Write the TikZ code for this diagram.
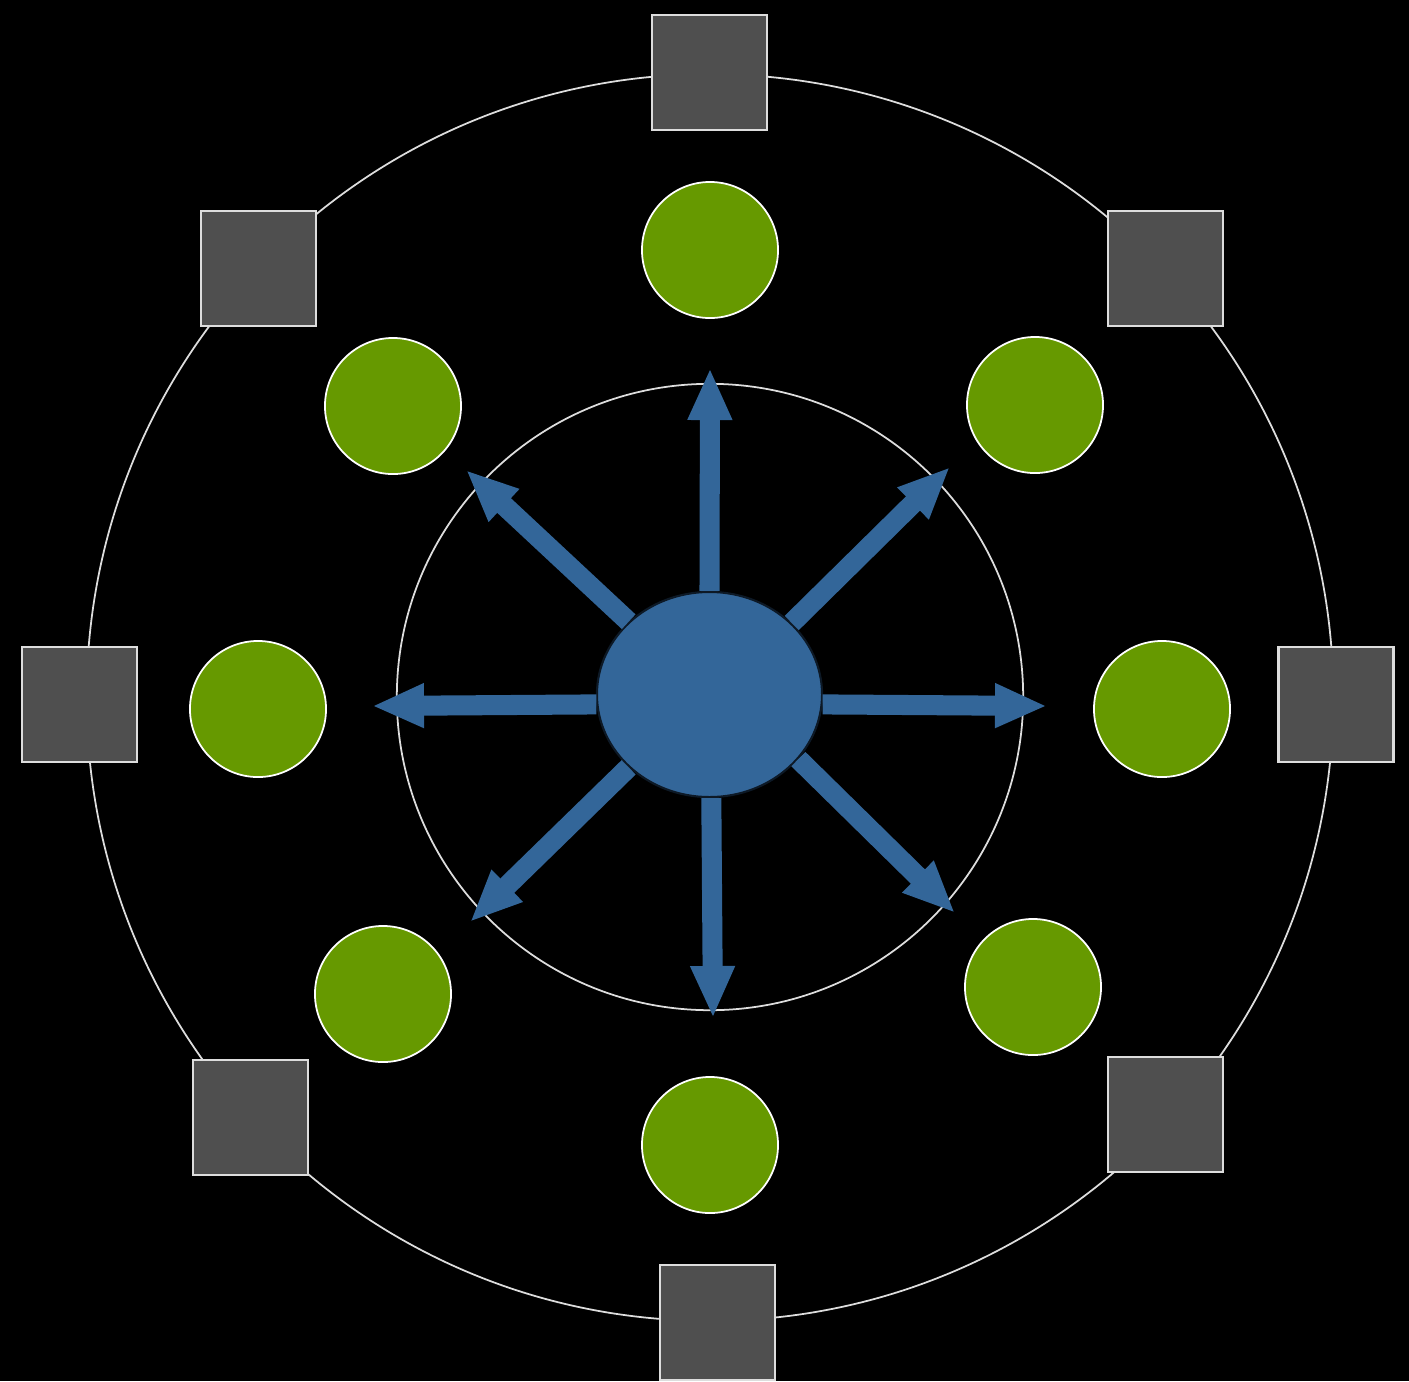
\documentclass[tikz,border=0pt]{standalone}
\usepackage{xcolor}
\usepackage{tikz}
\usetikzlibrary{arrows.meta,shapes.geometric}
\definecolor{hub}{HTML}{336699}
\definecolor{leaf}{HTML}{669900}
\definecolor{boxgray}{HTML}{4F4F4F}
\definecolor{ring}{HTML}{DDDDDD}

\begin{document}
\begin{tikzpicture}[x=0.01cm,y=-0.01cm,
    leafnode/.style={circle,fill=leaf,draw=white,line width=0.5pt,minimum size=1.36cm,inner sep=0pt},
    boxnode/.style={rectangle,fill=boxgray,draw=ring,line width=0.7pt,minimum size=1.15cm,inner sep=0pt},
    spoke/.style={hub,line width=5.7pt,-{Triangle[length=0.52cm,width=0.41cm]}}]
      \fill[black] (0,0) rectangle (1409,1381);
      \useasboundingbox (0,0) rectangle (1409,1381);
      % rings
      \draw[ring,line width=0.5pt] (710,697.5) circle (6.23cm);
      \draw[ring,line width=0.5pt] (710,697) circle (3.13cm);
      % outer boxes
      \foreach \n/\x/\y in {n/709.5/72.5, nw/258.5/268.5, ne/1165.5/268.5,
                            w/79.5/704.5, e/1336/704.5,
                            sw/250.5/1117.5, se/1165.5/1114.5, s/717.5/1322.5}
        \node[boxnode] (box\n) at (\x,\y) {};
      % green nodes
      \foreach \n/\x/\y in {n/710/250, nw/393/406, ne/1035/405,
                            w/258/709, e/1162/709,
                            sw/383/994, se/1033/987, s/710/1145}
        \node[leafnode] (leaf\n) at (\x,\y) {};
      % hub and spokes
      \node[ellipse,fill=hub,draw=black!75!hub,line width=0.6pt,
            minimum width=2.25cm,minimum height=2.05cm,inner sep=0pt] (hub) at (709.5,694.5) {};
      \foreach \n/\x/\y in {n/710/368, ne/950/467, e/1047/706, se/955/913,
                            s/713/1018, sw/470/922, w/372/706, nw/466/470}
        \coordinate (tip\n) at (\x,\y);
      \foreach \a/\n in {90/n, 41/ne, 355/e, 324/se, 271/s, 222/sw, 185/w, 138/nw}
        \draw[spoke] (hub.\a) -- (tip\n);
    \end{tikzpicture}
\end{document}
